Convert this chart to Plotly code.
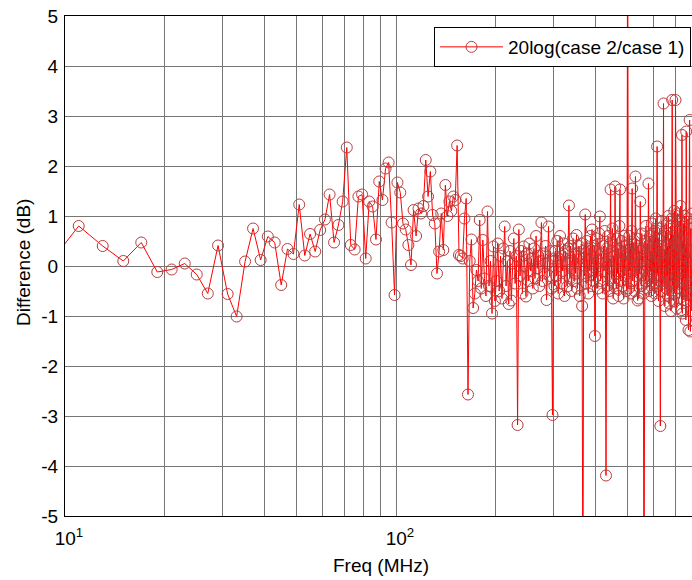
import numpy as np
import plotly.graph_objects as go

# ---------------- data ----------------
FREQ_STEP = 2  # MHz, sweep step

# segment start frequencies (MHz) and the difference values in dB
diff_009_099 = [0.06, 0.80, 0.40, 0.10, 0.47, -0.12, -0.07, 0.05, -0.17, -0.55,
                0.41, -0.56, -1.01, 0.09, 0.75, 0.12, 0.59, 0.47, -0.38, 0.34,
                0.24, 1.23, 0.21, 0.64, 0.29, 0.72, 0.93, 1.43, 0.47, 0.82,
                1.29, 2.37, 0.42, 0.33, 1.39, 1.43, 0.15, 1.29, 1.19, 0.53,
                1.69, 1.32, 1.95, 2.07, 0.87, -0.58]
diff_101_199 = [1.67, 1.47, 0.85, 0.73, 0.42, 0.02, 1.12, 0.60, 1.15, 1.05,
                1.20, 2.12, 1.39, 1.89, 1.02, 0.85, -0.15, 0.29, 1.05, 0.32,
                1.62, 1.00, 1.29, 1.10, 1.39, 1.32, 2.41, 0.22, 0.20, 0.15,
                0.95, 1.35, -2.57, 0.10, 0.53, -0.84, -0.55, -0.08, -0.30, 0.92,
                -0.45, 0.52, -0.25, -0.60, 1.09, -0.40, 0.10, -0.95, 0.39, -0.70]
diff_201_299 = [-0.30, 0.45, -0.50, 0.20, -0.65, 0.35, 0.79, -0.40, 0.10, -0.76,
                0.30, -0.69, 0.05, 0.55, -0.35, 0.20, -3.18, 0.73, -0.20, 0.30,
                -0.55, 0.39, 0.00, -0.61, 0.25, -0.30, 0.45, -0.10, 0.15, -0.45,
                0.35, -0.25, 0.60, -0.05, 0.20, -0.40, 0.10, 0.87, -0.30, 0.25,
                -0.15, 0.40, -0.68, 0.05, 0.79, -0.20, 0.30, -0.45, -2.98, 0.15]
diff_301_399 = [-0.40, 0.30, -0.20, 0.50, -0.55, 0.15, 0.60, -0.35, 0.20, -0.10,
                0.45, -0.60, 0.30, 0.05, -0.41, 0.35, 1.21, -0.25, 0.40, -0.50,
                0.10, 0.55, -0.30, 0.25, -0.15, 0.62, -0.45, 0.20, 0.40, -0.60,
                0.15, 0.45, -0.80, -7.50, 0.30, -0.20, 1.03, -0.35, 0.50, 0.10,
                -0.55, 0.35, -0.10, 0.60, -0.40, 0.73, 0.05, -0.30, 0.40, -1.40]
diff_401_499 = [0.30, -0.20, 0.55, -0.45, 0.10, 0.65, 0.99, -0.30, 0.25, 0.15,
                -0.55, 0.40, -0.10, 0.70, 0.05, -4.19, 0.35, -0.40, 0.60, 0.00,
                -0.50, 0.45, 1.53, -0.25, 0.30, 0.75, -0.65, 0.20, -0.35, 1.59,
                0.10, -0.45, 0.55, -0.15, 0.35, -0.60, 0.80, 1.53, -0.30, 0.15,
                0.50, -0.40, 0.25, -0.65, 0.60, -0.20, 0.40, 0.05, -0.50, 0.30]
diff_501_599 = [8.00, 0.25, -0.45, 0.60, -0.10, 0.35, -0.55, 0.70, 1.55, -0.30,
                0.20, 0.45, -0.50, 0.15, 1.79, -0.20, 0.55, 0.05, -0.69, 0.40,
                -0.65, 0.30, -0.15, 1.29, 0.10, -0.40, 0.65, -0.05, 0.35, -0.55,
                -8.00, 0.20, 0.50, -0.30, 0.80, 0.00, -0.45, 0.45, -0.20, 1.65,
                0.15, -0.50, 0.60, -0.10, 0.30, -0.60, 0.85, 0.05, -0.35, 0.50]
diff_601_699 = [-0.25, 0.70, -0.55, 0.20, 0.95, -0.40, 0.35, 2.39, -0.15, 0.55,
                -0.70, 0.25, 0.75, -0.30, -3.20, 0.40, -0.50, 0.90, -0.51, 0.15,
                0.60, 3.25, -0.35, 0.30, -0.80, 0.70, 0.05, -0.45, 0.85, -0.20,
                0.40, -0.60, 1.00, 0.10, -0.75, 0.55, -0.30, 0.80, -0.90, 0.35,
                0.95, 3.32, -0.40, 0.60, -0.70, 0.25, 1.10, -0.55, 0.45, 3.32]
diff_701_787 = [-0.20, 0.70, -0.85, 0.30, 1.05, -0.45, 0.55, -0.10, 0.90, -0.65,
                0.40, -0.30, 1.20, 0.05, -0.88, 2.62, -0.95, 0.50, -0.25, 0.85,
                -0.68, 0.20, 1.00, -0.50, 0.35, -1.08, 2.69, 0.15, -0.70, 0.65,
                -0.35, 0.95, -1.28, 0.30, -0.55, 2.92, 0.10, -1.31, 0.75, -0.40,
                0.55, -0.90, 1.05, -0.30]

segments = [(9, diff_009_099), (101, diff_101_199), (201, diff_201_299),
            (301, diff_301_399), (401, diff_401_499), (501, diff_501_599),
            (601, diff_601_699), (701, diff_701_787)]

series_name = "20log(case 2/case 1)"

x_tick_vals = [10, 20, 30, 40, 50, 60, 70, 80, 90, 100, 200, 300, 400, 500, 600, 700]
x_tick_text = ["10<sup>1</sup>", "", "", "", "", "", "", "", "",
               "10<sup>2</sup>", "", "", "", "", "", ""]
y_tick_vals = [-5, -4, -3, -2, -1, 0, 1, 2, 3, 4, 5]
y_tick_text = ["-5", "-4", "-3", "-2", "-1", "0", "1", "2", "3", "4", "5"]

x_title = "Freq (MHz)"
y_title = "Difference (dB)"

# ---------------- build ----------------
freq = []
diff = []
for start, vals in segments:
    for i, v in enumerate(vals):
        freq.append(start + FREQ_STEP * i)
        diff.append(v)

FONT = "Liberation Sans, Arial, sans-serif"
FS = 19
GRID = "#767676"

fig = go.Figure()
fig.add_trace(go.Scatter(
    x=freq, y=diff, mode="lines+markers", name=series_name,
    line=dict(color="#ff0000", width=1),
    marker=dict(symbol="circle-open", size=11, color="rgb(185,60,60)",
                line=dict(width=1)),
    showlegend=True,
))

L, T, B = 65, 16, 64
W, H = 692, 580
plot_w = W - L
plot_h = H - T - B
decade_px = 331.0

fig.update_layout(
    width=W, height=H,
    margin=dict(l=L, r=0, t=T, b=B, pad=0, autoexpand=False),
    paper_bgcolor="white", plot_bgcolor="white",
    font=dict(family=FONT, size=FS, color="black"),
    showlegend=True,
    legend=dict(
        x=(434 - L) / plot_w, y=(H - B - 27) / plot_h,
        xanchor="left", yanchor="top",
        bgcolor="white", bordercolor="black", borderwidth=1,
        font=dict(family=FONT, size=FS, color="black"),
        itemwidth=63,
    ),
    xaxis=dict(
        type="log", range=[1, 1 + plot_w / decade_px],
        tickmode="array", tickvals=x_tick_vals, ticktext=x_tick_text,
        showgrid=True, gridcolor=GRID, gridwidth=1,
        showline=True, linecolor="black", linewidth=1, mirror=True,
        zeroline=False, ticks="", ticklabelstandoff=5, ticklabelshift=4,
        tickfont=dict(family=FONT, size=FS, color="black"),
    ),
    yaxis=dict(
        range=[-5, 5],
        tickmode="array", tickvals=y_tick_vals, ticktext=y_tick_text,
        showgrid=True, gridcolor=GRID, gridwidth=1,
        showline=True, linecolor="black", linewidth=1,
        zeroline=False, ticks="", ticklabelstandoff=2,
        tickfont=dict(family=FONT, size=FS, color="black"),
    ),
    annotations=[
        dict(text=x_title, xref="paper", yref="paper",
             x=(381 - L) / plot_w, y=(H - B - 565) / plot_h,
             xanchor="center", yanchor="middle", showarrow=False,
             font=dict(family=FONT, size=FS, color="black")),
        dict(text=y_title, xref="paper", yref="paper", textangle=-90,
             x=(23 - L) / plot_w, y=(H - B - 263) / plot_h,
             xanchor="center", yanchor="middle", showarrow=False,
             font=dict(family=FONT, size=FS, color="black")),
    ],
)

fig.write_html("out.html")
